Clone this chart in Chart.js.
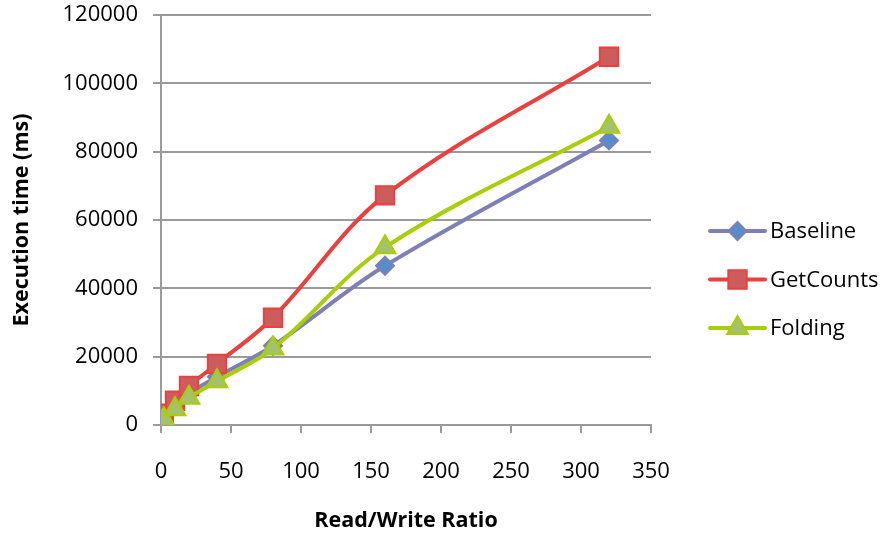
<!DOCTYPE html>
<html>
<head>
<meta charset="utf-8">
<script src="https://cdn.jsdelivr.net/npm/chart.js@4/dist/chart.umd.min.js"></script>
<style>
  html, body { margin: 0; padding: 0; background: #fff; }
  #wrap { width: 887px; height: 535px; }
</style>
</head>
<body>
<div id="wrap"><canvas id="grafico"></canvas></div>
<script>
const ratios = [2, 10, 20, 40, 80, 160, 320];

// tiempos de ejecucion (ms) por serie
const baseline  = [2500, 5500, 9200, 14100, 23200, 46600, 83300];
const getCounts = [3300, 7100, 11400, 17900, 31400, 67200, 107800];
const folding   = [1700, 4600, 8000, 12800, 22400, 52000, 87300];

const nombresSeries = ["Baseline", "GetCounts", "Folding"];
const ticksY = [0, 20000, 40000, 60000, 80000, 100000, 120000];
const ticksX = [0, 50, 100, 150, 200, 250, 300, 350];

const fuente = "'Open Sans', 'DejaVu Sans', sans-serif";
const gris = "#9a9a9a";

function puntos(valores){
	return valores.map((v, i) => ({x: ratios[i], y: v}));
}

// leyenda a la derecha con linea + marcador, como la de Excel
const leyenda = {
	id: "leyendaLinea",
	afterDraw(chart){
		const ctx = chart.ctx;
		const x0 = 710, x1 = 765, top = 231, paso = 48.5;
		chart.data.datasets.forEach((ds, i) => {
			const y = top + i * paso;
			ctx.save();
			ctx.strokeStyle = ds.borderColor;
			ctx.lineWidth = 4;
			ctx.lineCap = "round";
			ctx.beginPath();
			ctx.moveTo(x0, y);
			ctx.lineTo(x1, y);
			ctx.stroke();
			ctx.fillStyle = ds.pointBackgroundColor;
			ctx.strokeStyle = ds.pointBorderColor;
			ctx.lineWidth = ds.pointBorderWidth;
			Chart.helpers.drawPoint(ctx, {pointStyle: ds.pointStyle, rotation: 0, borderWidth: ds.pointBorderWidth, radius: ds.pointRadius}, (x0 + x1) / 2, y);
			ctx.fillStyle = "#000";
			ctx.font = "22px " + fuente;
			ctx.textBaseline = "middle";
			ctx.fillText(ds.label, x1 + 5, y + 1);
			ctx.restore();
		});
	}
};

// ejes con tamaño fijo, sin el relleno extra que Chart.js deja para las etiquetas
function ajustarY(s){
	s.width = 161;
	s.paddingTop = 0;
	s.paddingBottom = 0;
}
function ajustarX(s){
	s.height = 110;
	s.paddingLeft = 0;
	s.paddingRight = 0;
}

new Chart("grafico", {
	type: "line",
	data: {
		datasets: [{
			label: nombresSeries[0],
			data: puntos(baseline),
			borderColor: "#7F7FB8",
			borderWidth: 4,
			pointStyle: "rectRot",
			pointRadius: 9,
			pointBackgroundColor: "#578DC9",
			pointBorderColor: "#7F7FB8",
			pointBorderWidth: 2,
			order: 2
		}, {
			label: nombresSeries[1],
			data: puntos(getCounts),
			borderColor: "#E8413F",
			borderWidth: 4,
			pointStyle: "rect",
			pointRadius: 13,
			pointBackgroundColor: "#CD5D5C",
			pointBorderColor: "#E8413F",
			pointBorderWidth: 2,
			order: 1
		}, {
			label: nombresSeries[2],
			data: puntos(folding),
			borderColor: "#A8CE08",
			borderWidth: 4,
			pointStyle: "triangle",
			pointRadius: 12,
			pointBackgroundColor: "#A5C26B",
			pointBorderColor: "#A8CE08",
			pointBorderWidth: 2,
			order: 0
		}]
	},
	options: {
		responsive: true,
		maintainAspectRatio: false,
		animation: false,
		devicePixelRatio: 1,
		layout: { padding: {left: 0, top: 14, right: 236, bottom: 0} },
		elements: { line: { tension: 0.35, fill: false } },
		plugins: {
			legend: { display: false },
			tooltip: { enabled: false }
		},
		scales: {
			x: {
				type: "linear",
				min: 0,
				max: 350,
				afterBuildTicks: s => { s.ticks = ticksX.map(v => ({value: v})); },
				afterFit: ajustarX,
				grid: { drawOnChartArea: false, drawTicks: true, tickLength: 8, color: gris, lineWidth: 2 },
				border: { color: gris, width: 2 },
				ticks: { color: "#000", font: {family: fuente, size: 22}, padding: 26, maxRotation: 0 },
				title: {
					display: true,
					text: "Read/Write Ratio",
					color: "#000",
					font: {family: fuente, size: 21.5, weight: "bold"},
					padding: {top: 0, bottom: 1}
				}
			},
			y: {
				min: 0,
				max: 120000,
				afterBuildTicks: s => { s.ticks = ticksY.map(v => ({value: v})); },
				afterFit: ajustarY,
				grid: { drawTicks: true, tickLength: 8, color: gris, lineWidth: 2 },
				border: { color: gris, width: 2 },
				ticks: { color: "#000", font: {family: fuente, size: 22}, padding: 15, callback: v => String(v) },
				title: {
					display: true,
					text: "Execution time (ms)",
					color: "#000",
					font: {family: fuente, size: 21.5, weight: "bold"},
					padding: {top: 9, bottom: 0}
				}
			}
		}
	},
	plugins: [leyenda]
});
</script>
</body>
</html>
